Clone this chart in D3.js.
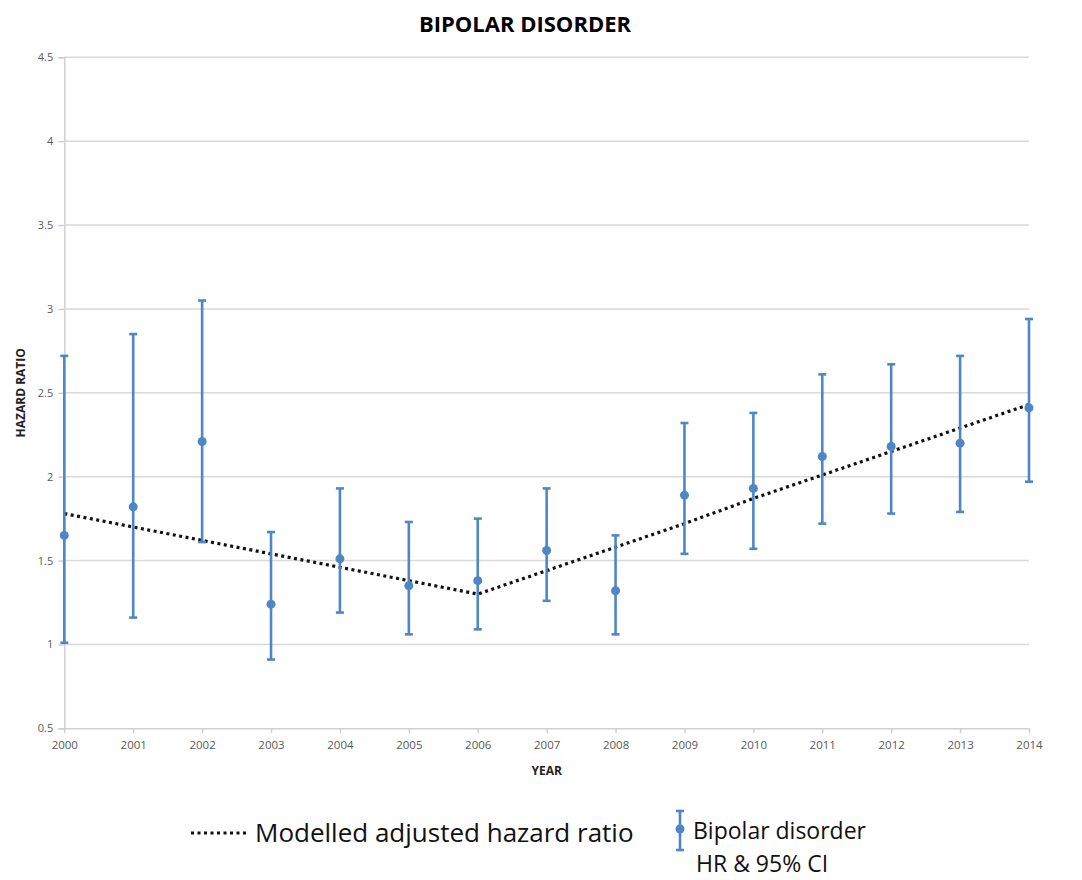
<!DOCTYPE html>
<html>
<head>
<meta charset="utf-8">
<script src="https://cdn.jsdelivr.net/npm/d3@7"></script>
<style>
  body { margin: 0; background: #fff; }
  svg { display: block; }
  text { font-family: "Open Sans", "Liberation Sans", sans-serif; }
</style>
</head>
<body>
<svg id="chart" width="1082" height="880"></svg>
<script>
const years = [2000, 2001, 2002, 2003, 2004, 2005, 2006, 2007, 2008, 2009, 2010, 2011, 2012, 2013, 2014];
const hr    = [1.65, 1.82, 2.21, 1.24, 1.51, 1.35, 1.38, 1.56, 1.32, 1.89, 1.93, 2.12, 2.18, 2.20, 2.41];
const ciLow = [1.01, 1.16, 1.61, 0.91, 1.19, 1.06, 1.09, 1.26, 1.06, 1.54, 1.57, 1.72, 1.78, 1.79, 1.97];
const ciHigh= [2.72, 2.85, 3.05, 1.67, 1.93, 1.73, 1.75, 1.93, 1.65, 2.32, 2.38, 2.61, 2.67, 2.72, 2.94];
const modelled = [1.78, 1.70, 1.62, 1.54, 1.46, 1.38, 1.30, 1.44, 1.58, 1.72, 1.87, 2.01, 2.15, 2.29, 2.43];
const yTicks = [0.5, 1, 1.5, 2, 2.5, 3, 3.5, 4, 4.5];

const title = "BIPOLAR DISORDER";
const xTitle = "YEAR";
const yTitle = "HAZARD RATIO";
const legendLine = "Modelled adjusted hazard ratio";
const legendBar = ["Bipolar disorder", "HR & 95% CI"];

const blue = "#4f86c6";
const svg = d3.select("#chart");

const pLeft = 64.3, pRight = 1029, pTop = 57.3, pBottom = 728.3;
const x = d3.scaleLinear().domain([2000, 2014]).range([pLeft, pRight]);
const y = d3.scaleLinear().domain([0.5, 4.5]).range([pBottom, pTop]);

// gridlines
svg.append("g").selectAll("line").data(yTicks.slice(1)).join("line")
  .attr("x1", pLeft).attr("x2", pRight)
  .attr("y1", d => y(d)).attr("y2", d => y(d))
  .attr("stroke", "#d9d9d9").attr("stroke-width", 1.5);

// y axis
const yAxis = svg.append("g").attr("transform", `translate(${pLeft},0)`)
  .call(d3.axisLeft(y).tickValues(yTicks).tickFormat(d3.format("")).tickSize(6).tickPadding(5));
yAxis.select(".domain").attr("stroke", "#d0d0d0").attr("stroke-width", 1.5);
yAxis.selectAll(".tick line").attr("stroke", "#d0d0d0").attr("stroke-width", 1.5);
yAxis.selectAll(".tick text").attr("fill", "#595959").style("font-size", "11px").style("font-family", "'Open Sans', sans-serif");

// x axis
const xAxis = svg.append("g").attr("transform", `translate(0,${pBottom})`)
  .call(d3.axisBottom(x).tickValues(years).tickFormat(d3.format("d")).tickSize(5).tickPadding(8).tickSizeOuter(0));
xAxis.select(".domain").attr("stroke", "#d0d0d0").attr("stroke-width", 1.5);
xAxis.selectAll(".tick line").attr("stroke", "#d0d0d0").attr("stroke-width", 1.5);
xAxis.selectAll(".tick text").attr("fill", "#595959").style("font-size", "11.5px").style("font-family", "'Open Sans', sans-serif");

// titles
svg.append("text").attr("x", 525).attr("y", 32).attr("text-anchor", "middle")
  .style("font-size", "22px").style("font-weight", "bold").attr("fill", "#000").text(title);
svg.append("text").attr("x", (pLeft + pRight) / 2).attr("y", 775).attr("text-anchor", "middle")
  .style("font-size", "12px").style("font-weight", "bold").attr("fill", "#222").text(xTitle);
svg.append("text").attr("transform", `translate(25,${(pTop + pBottom) / 2}) rotate(-90)`).attr("text-anchor", "middle")
  .style("font-size", "12px").style("font-weight", "bold").attr("fill", "#222").text(yTitle);

// modelled line
const line = d3.line().x((d, i) => x(years[i])).y(d => y(d));
svg.append("path").datum(modelled).attr("d", line)
  .attr("fill", "none").attr("stroke", "#111").attr("stroke-width", 3.2)
  .attr("stroke-dasharray", "3,3.5");

// error bars
const eb = svg.append("g").selectAll("g").data(years).join("g");
eb.append("line").attr("x1", d => x(d)).attr("x2", d => x(d))
  .attr("y1", (d, i) => y(ciLow[i])).attr("y2", (d, i) => y(ciHigh[i]))
  .attr("stroke", blue).attr("stroke-width", 2.6);
eb.append("line").attr("x1", d => x(d) - 4).attr("x2", d => x(d) + 4)
  .attr("y1", (d, i) => y(ciHigh[i])).attr("y2", (d, i) => y(ciHigh[i]))
  .attr("stroke", blue).attr("stroke-width", 2.6);
eb.append("line").attr("x1", d => x(d) - 4).attr("x2", d => x(d) + 4)
  .attr("y1", (d, i) => y(ciLow[i])).attr("y2", (d, i) => y(ciLow[i]))
  .attr("stroke", blue).attr("stroke-width", 2.6);
eb.append("circle").attr("cx", d => x(d)).attr("cy", (d, i) => y(hr[i])).attr("r", 4.5).attr("fill", blue);

// legend
const lg = svg.append("g");
lg.append("line").attr("x1", 191).attr("x2", 249).attr("y1", 833).attr("y2", 833)
  .attr("stroke", "#111").attr("stroke-width", 3.2).attr("stroke-dasharray", "3,3.5");
lg.append("text").attr("x", 255).attr("y", 842).style("font-size", "26px").attr("fill", "#111").text(legendLine);
lg.append("line").attr("x1", 680).attr("x2", 680).attr("y1", 811).attr("y2", 850).attr("stroke", blue).attr("stroke-width", 2.6);
lg.append("line").attr("x1", 676).attr("x2", 684).attr("y1", 811).attr("y2", 811).attr("stroke", blue).attr("stroke-width", 2.6);
lg.append("line").attr("x1", 676).attr("x2", 684).attr("y1", 850).attr("y2", 850).attr("stroke", blue).attr("stroke-width", 2.6);
lg.append("circle").attr("cx", 680).attr("cy", 829).attr("r", 4.5).attr("fill", blue);
lg.append("text").attr("x", 693).attr("y", 839).style("font-size", "23px").attr("fill", "#111").text(legendBar[0]);
lg.append("text").attr("x", 696).attr("y", 872).style("font-size", "23px").attr("fill", "#111").text(legendBar[1]);
</script>
</body>
</html>
